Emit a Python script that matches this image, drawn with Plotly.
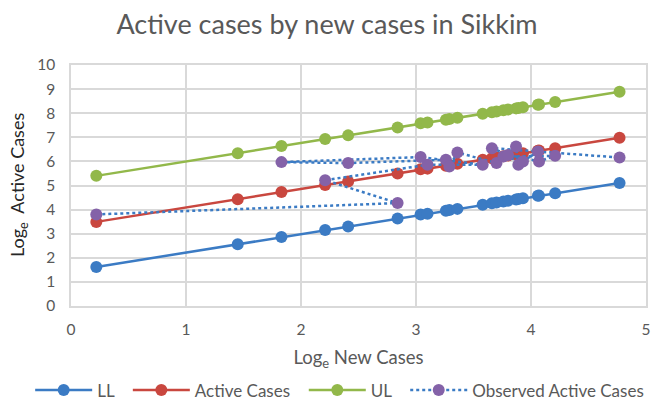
import plotly.graph_objects as go

# Fitted (regression) series, sorted by log new cases
fit_x = [0.22, 1.45, 1.83, 2.21, 2.41, 2.84, 3.04, 3.10, 3.26, 3.29, 3.36, 3.58,
         3.66, 3.70, 3.76, 3.80, 3.87, 3.89, 3.93, 4.06, 4.07, 4.21, 4.77]
ll = [1.62, 2.56, 2.86, 3.15, 3.30, 3.63, 3.80, 3.83, 3.95, 3.98, 4.03, 4.20,
      4.26, 4.29, 4.34, 4.37, 4.42, 4.44, 4.47, 4.57, 4.58, 4.68, 5.10]
active = [3.49, 4.43, 4.73, 5.02, 5.17, 5.50, 5.67, 5.70, 5.82, 5.85, 5.90, 6.07,
          6.13, 6.16, 6.21, 6.24, 6.29, 6.31, 6.34, 6.44, 6.45, 6.55, 6.98]
ul = [5.40, 6.34, 6.64, 6.93, 7.08, 7.41, 7.58, 7.61, 7.73, 7.76, 7.81, 7.98,
      8.04, 8.07, 8.12, 8.15, 8.20, 8.22, 8.25, 8.35, 8.36, 8.46, 8.89]

# Observed series (chronological order)
obs_x = [0.22, 2.84, 2.21, 3.10, 3.58, 3.04, 1.83, 2.41, 3.26, 3.29, 3.36, 3.70,
         3.87, 3.89, 4.06, 3.93, 3.76, 4.21, 4.07, 3.80, 3.66, 4.77]
obs_y = [3.80, 4.27, 5.22, 5.86, 5.86, 6.18, 5.97, 5.93, 6.07, 5.79, 6.37, 5.93,
         6.62, 5.86, 6.41, 6.00, 6.20, 6.23, 6.00, 6.27, 6.55, 6.16]

x_ticks = [0, 1, 2, 3, 4, 5]
y_ticks = [0, 1, 2, 3, 4, 5, 6, 7, 8, 9, 10]

BLUE = "#3B7BC4"
RED = "#C9473F"
GREEN = "#92B84A"
PURPLE = "#8462A8"
FONT = "Lato"
GRAY = "#595959"
PAD = "\u00a0\u00a0"

fig = go.Figure()
fig.add_trace(go.Scatter(x=fit_x, y=ll, name="LL" + PAD, mode="lines+markers",
                         line=dict(color=BLUE, width=2.5),
                         marker=dict(color=BLUE, size=12)))
fig.add_trace(go.Scatter(x=fit_x, y=active, name="Active Cases" + PAD, mode="lines+markers",
                         line=dict(color=RED, width=2.5),
                         marker=dict(color=RED, size=12)))
fig.add_trace(go.Scatter(x=fit_x, y=ul, name="UL" + PAD, mode="lines+markers",
                         line=dict(color=GREEN, width=2.5),
                         marker=dict(color=GREEN, size=12)))
fig.add_trace(go.Scatter(x=obs_x, y=obs_y, name="Observed Active Cases", mode="lines+markers",
                         line=dict(color=BLUE, width=2.5, dash="dot"),
                         marker=dict(color=PURPLE, size=12)))

fig.update_layout(
    width=654, height=404,
    margin=dict(l=71, r=8, t=65, b=97.5, autoexpand=False),
    paper_bgcolor="white", plot_bgcolor="white",
    font=dict(family=FONT, color=GRAY, size=15),
    title=dict(text="Active cases by new cases in Sikkim", x=0.5, xanchor="center",
               y=0.939, yanchor="middle", font=dict(size=27, color=GRAY, family=FONT)),
    showlegend=True,
    legend=dict(orientation="h", x=-0.071, xanchor="left", y=-0.35, yanchor="middle",
                font=dict(size=17, color=GRAY), itemwidth=57, tracegroupgap=0,
                traceorder="normal"),
    xaxis=dict(range=[0, 5], tickvals=x_ticks, ticktext=[str(v) for v in x_ticks],
               showgrid=True, gridcolor="#D9D9D9", gridwidth=1.5,
               showline=True, linecolor="#D9D9D9", linewidth=1.5, mirror=True,
               zeroline=False, ticks="", ticklabelstandoff=9, automargin=False,
               ticklabeloverflow="allow",
               tickfont=dict(size=15.5, color=GRAY),
               title=dict(text="Log<sub>e</sub> New Cases", standoff=14,
                          font=dict(size=18.5, color=GRAY))),
    yaxis=dict(range=[0, 10], tickvals=y_ticks, ticktext=[str(v) for v in y_ticks],
               showgrid=True, gridcolor="#D9D9D9", gridwidth=1.5,
               showline=True, linecolor="#D9D9D9", linewidth=1.5, mirror=True,
               zeroline=False, ticks="outside", ticklen=11, tickcolor="rgba(0,0,0,0)",
               automargin=False, ticklabeloverflow="allow",
               tickfont=dict(size=15.5, color=GRAY)),
    annotations=[dict(text="Log<sub>e</sub>  Active Cases", textangle=-90,
                      xref="paper", yref="paper", x=-0.090, y=0.503,
                      xanchor="center", yanchor="middle", showarrow=False,
                      font=dict(size=18, color="#262626", family=FONT))],
)

fig.write_html("out.html", config={"displayModeBar": False},
               post_script="document.body.style.margin='0';document.body.style.overflow='hidden';")
